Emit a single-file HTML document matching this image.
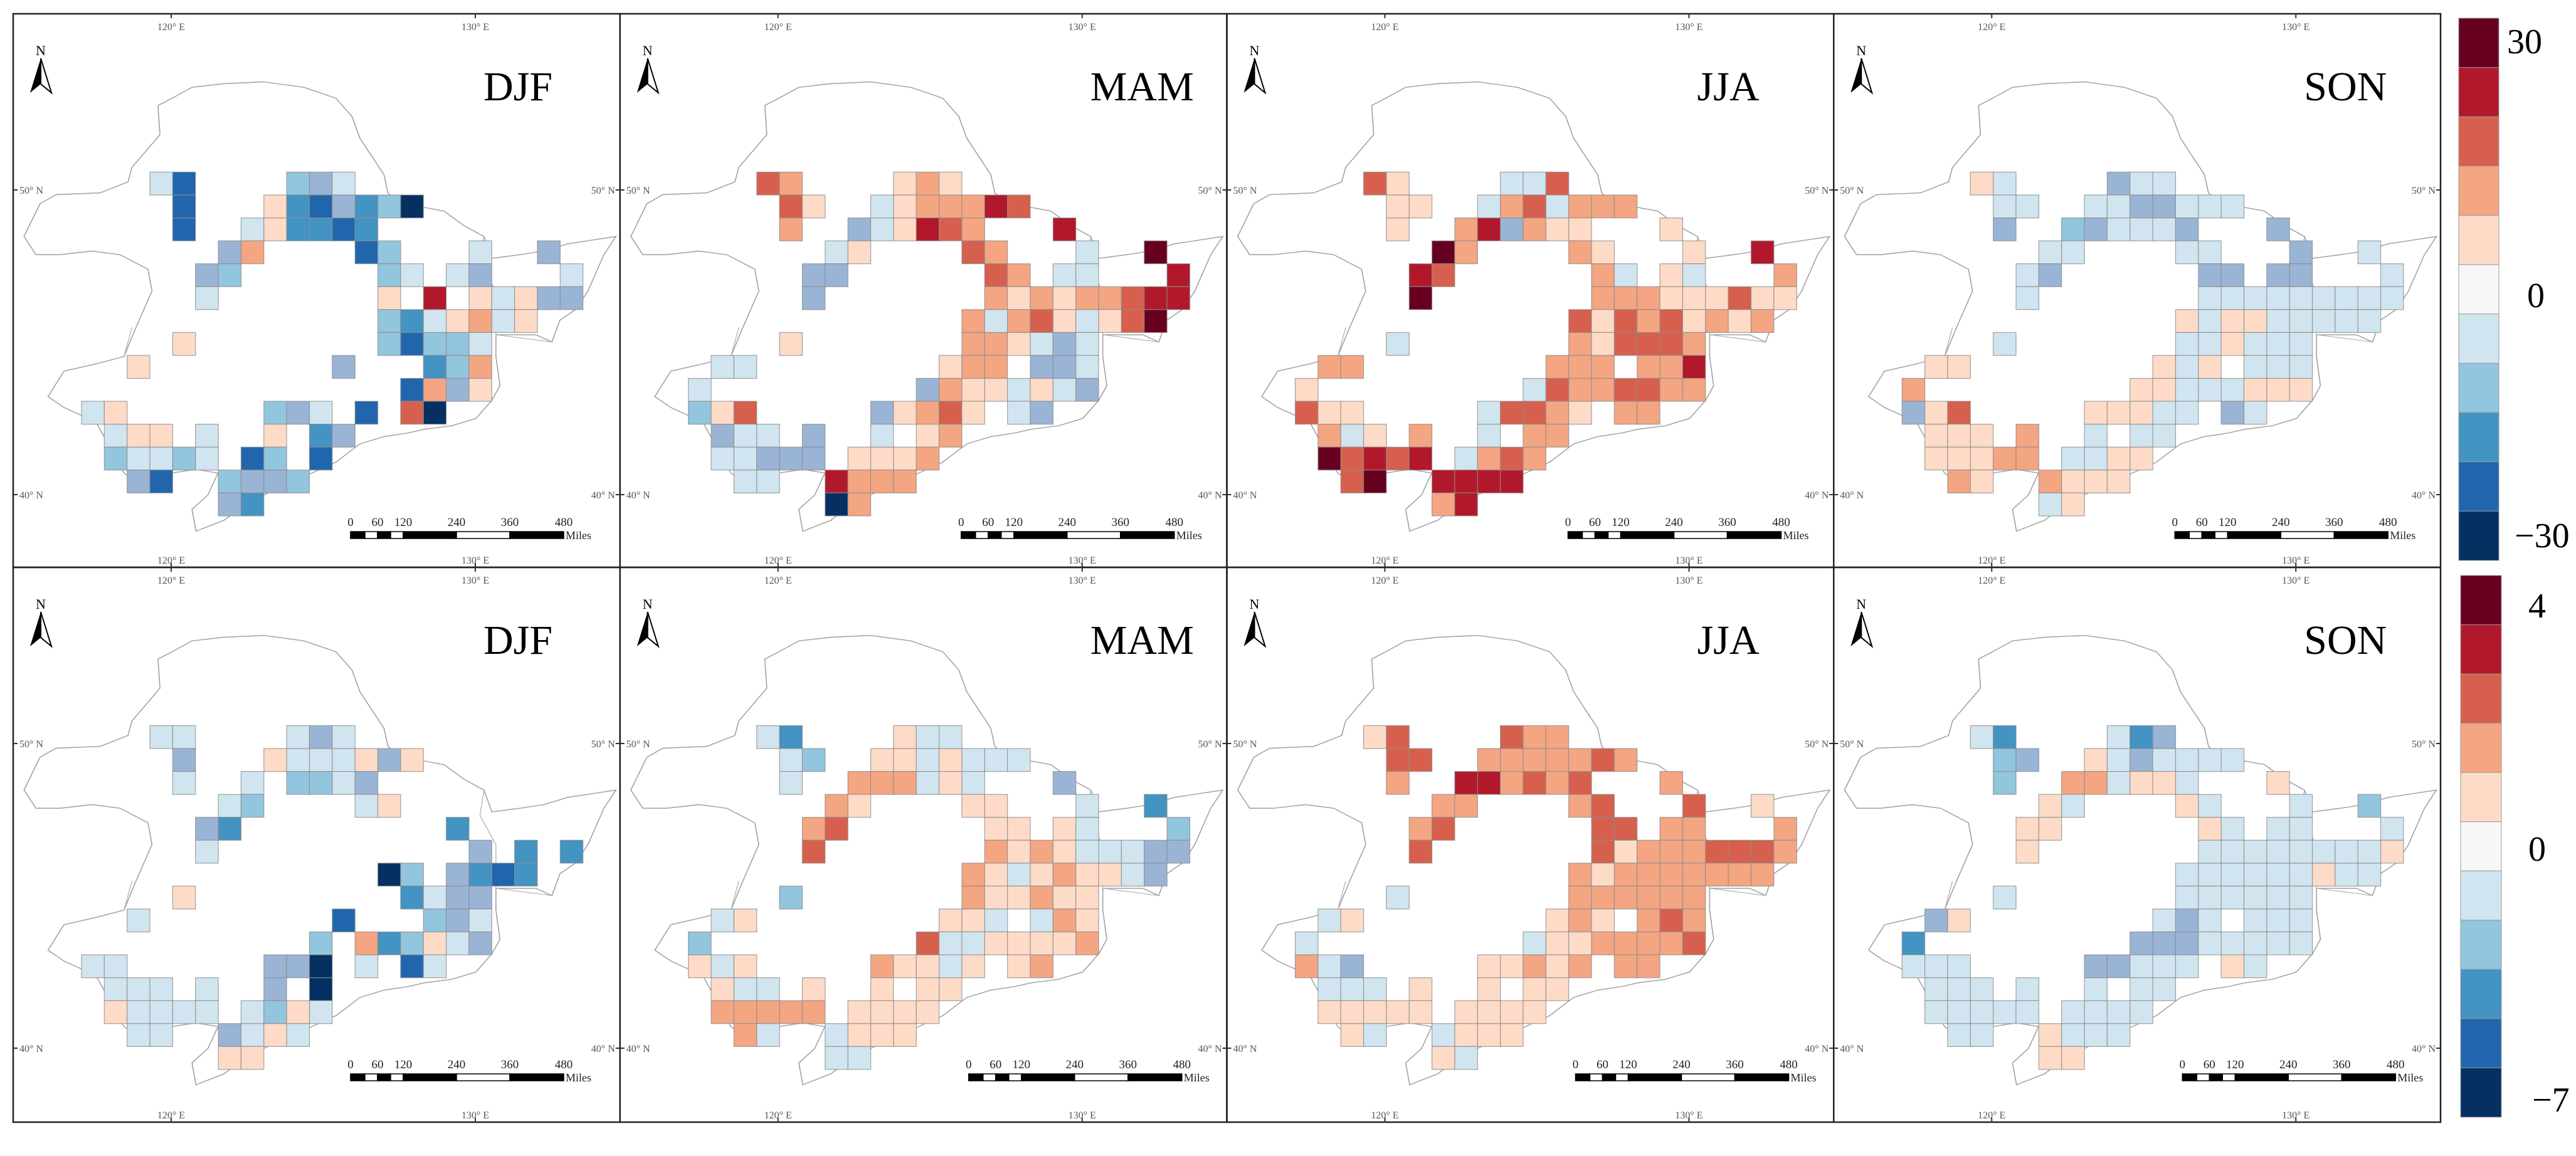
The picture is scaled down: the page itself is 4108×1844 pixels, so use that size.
<!DOCTYPE html>
<html><head><meta charset="utf-8">
<style>
html,body{margin:0;padding:0;background:#fff;}
svg{display:block;}
text{font-family:"Liberation Serif",serif;}
</style></head>
<body>
<svg id="fig" xmlns="http://www.w3.org/2000/svg" width="4108" height="1844" viewBox="0 0 4108 1844">
<rect x="0" y="0" width="4108" height="1844" fill="#fff"/>
</svg>
<script>
// ---- data: cell classes per panel (row strings: "col+code") ----
const seasons = ["DJF","MAM","JJA","SON"];
const topTicks = ["30","0","-30"];
const bottomTicks = ["4","0","-7"];
const djfTop = ["3E 4B 9D 10g 11E","4B 8F 9C 10B 11g 12C 13D 14A","4B 7E 8F 9C 10C 11B 12C","6g 7G 12B 13D 17E 20g","5g 6D 13D 14E 16E 17g 21E","5E 13F 15I 17F 18E 19F 20g 21g","13D 14C 15E 16F 17G 18E 19F","4F 13D 14B 15D 16D 17E","2F 11g 15C 16D 17G","14B 15G 16g 17F","0E 1F 8D 9g 10E 12B 14H 15A","1E 2F 3F 5E 8F 10C 11g","1D 2E 3E 4D 5E 7B 8D 10B","2g 3B 6D 7g 8g 9D","6g 7C"];
const mamTop = ["3H 4G 9F 10G 11F","4H 5F 8E 9F 10G 11G 12G 13I 14H","4G 7g 8E 9F 10I 11H 12G 16I","6E 7F 12H 13G 17E 20J","5g 6g 13H 14G 16E 17E 21I","5g 13G 14F 15G 16F 17G 18G 19H 20I 21I","12G 13E 14G 15H 16F 17E 18F 19H 20J","4F 12G 13G 14F 15E 16g 17E","1E 2E 11F 12G 13G 15g 16g 17E","0E 10g 11G 12F 13F 14E 15F 16E 17g","0D 1F 2H 8g 9F 10G 11H 12F 14E 15g","1g 2E 3E 5g 8E 10F 11G","1E 2E 3g 4g 5g 7F 8F 9F 10G","2E 3E 6I 7G 8G 9G","6A 7G"];
const jjaTop = ["3H 4F 9E 10E 11H","4F 5F 8E 9G 10H 11E 12G 13G 14G","4F 7G 8I 9g 10G 11F 12F 16F","6J 7G 12G 13F 17F 20I","5I 6H 13G 14E 16F 17E 21G","5J 13G 14G 15G 16F 17F 18F 19H 20F 21F","12H 13F 14H 15G 16H 17F 18G 19F 20G","4E 12G 13F 14H 15H 16H 17G","1G 2G 11G 12G 13G 15G 16G 17I","0F 10E 11H 12G 13G 14H 15H 16G 17G","0H 1F 2F 8E 9H 10H 11G 12F 14G 15G","1G 2E 3F 5G 8E 10G 11G","1J 2H 3I 4H 5I 7E 8G 9H 10G","2H 3J 6I 7I 8I 9I","6G 7I"];
const sonTop = ["3F 4E 9g 10E 11E","4E 5E 8E 9E 10g 11g 12E 13E 14E","4g 7D 8g 9E 10E 11E 12g 16g","6E 7E 12E 13E 17g 20E","5E 6g 13g 14g 16g 17g 21E","5E 13E 14E 15E 16E 17E 18E 19E 20E 21E","12F 13E 14F 15F 16E 17E 18E 19E 20E","4E 12E 13E 14F 15E 16E 17E","1F 2F 11F 12E 13F 15E 16E 17E","0G 10F 11F 12E 13E 14E 15F 16F 17F","0g 1F 2H 8F 9F 10F 11E 12E 14g 15E","1F 2F 3F 5G 8E 10E 11E","1F 2F 3F 4G 5G 7E 8E 9F 10F","2G 3F 6G 7F 8F 9F","6E 7F"];
const djfBot = ["3E 4E 9E 10g 11E","4g 8F 9E 10E 11E 12F 13g 14F","4E 7E 9D 10D 11E 12g","6E 7D 12E 13F","5g 6C 16C","5E 17g 19C 21C","13A 14D 16g 17C 18B 19C","4F 14C 15E 16g 17g","2E 11B 15D 16g 17E","10D 12G 13C 14D 15F 16E 17g","0E 1E 8g 9g 10A 12E 14B 15E","1E 2E 3E 5E 8g 10A","1F 2E 3E 4E 5E 7E 8D 9F 10E","2E 3E 6g 7E 8F 9E","6F 7F"];
const mamBot = ["3E 4C 9F 10E 11E","4E 5D 8F 9F 10E 11F 12E 13E 14E","4E 7G 8G 9G 10E 11F 12E 16g","6G 7F 12F 13F 17E 20C","5G 6H 13F 14F 16F 17E 21D","5H 13G 14F 15G 16F 17E 18E 19E 20g 21g","12G 13F 14E 15F 16G 17F 18F 19E 20g","4D 12G 13F 14F 15G 16F 17F","1E 2F 11F 12F 13E 15E 16G 17F","0D 10H 11E 12E 13F 14F 15F 16F 17G","0F 1E 2F 8G 9F 10F 11E 12F 14F 15G","1F 2E 3E 5F 8F 10F 11F","1G 2G 3G 4G 5G 7F 8F 9F 10F","2G 3E 6E 7F 8F 9F","6E 7E"];
const jjaBot = ["3F 4H 9H 10G 11G","4H 5H 8G 9G 10G 11G 12G 13H 14G","4G 7I 8I 9G 10H 11G 12H 16G","6G 7G 12G 13H 17H 20F","5G 6H 13H 14H 16G 17G 21G","5H 13H 14F 15G 16G 17G 18H 19H 20H 21G","12G 13F 14G 15G 16G 17G 18G 19G 20G","4E 12G 13G 14G 15G 16G 17G","1E 2F 11F 12G 13F 15G 16H 17G","0E 10E 11F 12F 13G 14G 15G 16G 17H","0G 1E 2g 8F 9F 10G 11F 12G 14G 15G","1E 2E 3E 5F 8F 10F 11F","1F 2F 3F 4F 5F 7F 8F 9F 10F","2F 3E 6E 7F 8F 9F","6F 7E"];
const sonBot = ["3E 4C 9E 10C 11g","4D 5g 8F 9E 10g 11E 12E 13E 14E","4D 7G 8G 9E 10F 11F 12E 16F","6F 7E 12F 13E 17E 20D","5F 6F 13F 14E 16E 17E 21E","5F 13E 14E 15E 16E 17E 18E 19E 20E 21F","12E 13E 14E 15E 16E 17E 18F 19E 20E","4E 12E 13E 14E 15E 16E 17E","1g 2F 11E 12g 13E 15E 16E 17E","0C 10g 11g 12g 13E 14E 15E 16E 17E","0E 1E 2E 8g 9g 10E 11E 12E 14F 15E","1E 2E 3E 5E 8E 10E 11E","1E 2E 3E 4E 5E 7E 8E 9E 10E","2E 3E 6F 7E 8E 9E","6F 7F"];
const classValue = {A:-5,B:-4,C:-3,g:-2.5,D:-2,E:-1,F:1,G:2,H:3,I:4,J:5};

// ---- styling / geometry ----
const NS="http://www.w3.org/2000/svg";
const svg=document.getElementById('fig');
const palette=["#053061","#2166ac","#4393c3","#92c5de","#d1e5f0","#f7f7f7","#fddbc7","#f4a582","#d6604d","#b2182b","#67001f"];
function colorOf(v){ if(v===-2.5) return "#9ab4d6"; return palette[v+5]; }
const panelW=967.75, panelX0=21, rowTop=[22,905], rowH=[883,885];
const cellW=36.35, cellH=36.56, gridX0=130-21, gridY0=274.5-22;
function xScale(c){return gridX0+c*cellW;}
function yScale(r){return gridY0+r*cellH;}
function mk(tag,attrs,parent){const e=document.createElementNS(NS,tag);for(const k in attrs)e.setAttribute(k,attrs[k]);(parent||svg).appendChild(e);return e;}

const outline="M395,290 L430,270 L480,240 L560,230 L660,225 L760,240 L840,270 L880,320 L900,380 L930,430 L960,480 L970,530 L1000,560 L1060,570 L1110,580 L1160,620 L1210,650 L1230,710 L1300,700 L1360,690 L1420,670 L1480,660 L1540,650 L1510,700 L1470,800 L1440,850 L1400,880 L1380,940 L1340,920 L1240,920 L1240,980 L1250,1060 L1230,1100 L1190,1150 L1130,1170 L1060,1180 L1020,1190 L960,1200 L900,1220 L840,1270 L780,1300 L700,1340 L620,1380 L560,1430 L490,1460 L480,1400 L520,1360 L545,1300 L490,1290 L430,1300 L380,1355 L310,1300 L240,1160 L160,1120 L120,1090 L160,1020 L240,1000 L310,980 L340,900 L380,800 L370,740 L300,700 L230,690 L150,700 L90,700 L60,650 L100,560 L140,535 L250,530 L320,500 L330,460 L400,370 Z";
const inner1="M1210,650 L1200,720 L1240,800 L1240,920";
const inner2="M310,980 L330,900 M1240,920 L1380,940";

const panels=[[djfTop,mamTop,jjaTop,sonTop],[djfBot,mamBot,jjaBot,sonBot]];
for(let row=0;row<2;row++){
 for(let i=0;i<4;i++){
  const ox=panelX0+i*panelW, oy=rowTop[row];
  const g=mk('g',{transform:`translate(${ox},${oy})`});
  
  
  const mg=mk('g',{transform:`translate(${-21},${-22}) scale(0.6378,0.5804)`},g);
  const ol=mk('path',{d:outline,fill:'none',stroke:'#a0a0a0','stroke-width':2.5},mg);
  
  
  mk('path',{d:inner1+" "+inner2,fill:'none',stroke:'#b0b0b0','stroke-width':2},mg);
  const data=panels[row][i];
  data.forEach((rowStr,r)=>{
   rowStr.split(' ').forEach(tok=>{
    const m=tok.match(/^(\d+)([A-Za-z])$/); if(!m) return;
    const c=+m[1], v=classValue[m[2]];
    const rect=mk('rect',{x:xScale(c),y:yScale(r),width:cellW,height:cellH,fill:colorOf(v),stroke:'#8c8c8c','stroke-width':1.2,'stroke-opacity':0.8},g);
    
    
   });
  });
  // frame
  const fr=mk('rect',{x:0,y:0,width:panelW,height:rowH[row],fill:'none',stroke:'#222','stroke-width':2.5},g);
  
  
  // graticule labels
  [[231,"120° E"],[716,"130° E"]].forEach(([x,t])=>{
   const tx=x+21-21;
   mk('line',{x1:tx+21,y1:0,x2:tx+21,y2:7,stroke:'#333','stroke-width':2},g);
   mk('line',{x1:tx+21,y1:rowH[row]-7,x2:tx+21,y2:rowH[row],stroke:'#333','stroke-width':2},g);
   const a=mk('text',{x:tx+21,y:26,'font-size':16,fill:'#555','text-anchor':'middle'},g); a.textContent=t;
   
   
   const b=mk('text',{x:tx+21,y:rowH[row]-6,'font-size':16,fill:'#555','text-anchor':'middle'},g); b.textContent=t;
   
   
  });
  [[281,"50° N"],[767,"40° N"]].forEach(([y,t])=>{
   mk('line',{x1:0,y1:y,x2:7,y2:y,stroke:'#333','stroke-width':2},g);
   mk('line',{x1:panelW-7,y1:y,x2:panelW,y2:y,stroke:'#333','stroke-width':2},g);
   const a=mk('text',{x:10,y:y+6,'font-size':16,fill:'#555'},g); a.textContent=t;
   
   
   const b=mk('text',{x:panelW-8,y:y+6,'font-size':16,fill:'#555','text-anchor':'end'},g); b.textContent=t;
   
   
  });
  // north arrow
  const na=mk('g',{},g);
  
  
  mk('path',{d:'M44,71 L27,126 L44,112 Z',fill:'#000'},na);
  mk('path',{d:'M44,71 L61,126 L44,112 Z',fill:'#fff',stroke:'#000','stroke-width':2},na);
  const nt=mk('text',{x:44,y:66,'font-size':22,'font-family':'Liberation Sans','text-anchor':'middle'},na); nt.textContent="N";
  // season title
  const st=mk('text',{x:750,y:138,'font-size':66},g); st.textContent=seasons[i];
  
  
  // scale bar
  const sb=mk('g',{transform:`translate(${538+(i>0?(row?18:6):0)},${row?808:826})`},g);
  
  
  const segs=[[0,23,'#000'],[23,43,'#fff'],[43,64,'#000'],[64,84,'#fff'],[84,169,'#000'],[169,254,'#fff'],[254,340,'#000']];
  segs.forEach(s=>mk('rect',{x:s[0],y:0,width:s[1]-s[0],height:11,fill:s[2],stroke:'#000','stroke-width':1.5},sb));
  [[0,"0"],[43,"60"],[84,"120"],[169,"240"],[254,"360"],[340,"480"]].forEach(([x,t])=>{
   const tt=mk('text',{x:x,y:-9,'font-size':19,'font-family':'Liberation Sans','text-anchor':'middle',fill:'#222'},sb); tt.textContent=t;
  });
  const mi=mk('text',{x:343,y:12,'font-size':18,'font-family':'Liberation Sans',fill:'#222'},sb); mi.textContent="Miles";
 }
}
// ---- colorbars ----
function colorbar(x,y,w,h,ticks,name,tickY){
 const g=mk('g',{});
 
 
 const sh=h/11;
 for(let k=0;k<11;k++){
  const r=mk('rect',{x:x,y:y+k*sh,width:w,height:sh,fill:palette[10-k],stroke:'#999','stroke-width':1},g);
  
  
 }
 ticks.forEach((t,k)=>{
  const tx=mk('text',{x:tickY[k][0],y:tickY[k][1],'font-size':56},g); tx.textContent=t.replace('-','\u2212');
  
  
 });
}
colorbar(3921,29,64,865,topTicks,'colorbar-top',[[3998,85],[4030,490],[4010,873]]);
colorbar(3924,918,65,864,bottomTicks,'colorbar-bottom',[[4032,985],[4032,1373],[4038,1773]]);
</script>
</body></html>
